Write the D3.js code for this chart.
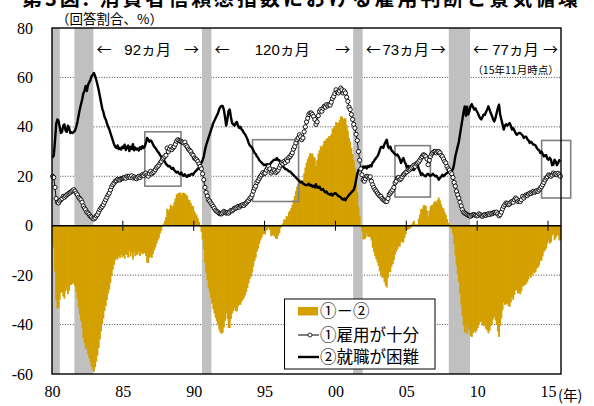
<!DOCTYPE html>
<html>
<head>
<meta charset="utf-8">
<script src="https://cdn.jsdelivr.net/npm/d3@7"></script>
<style>
body { margin: 0; background: #fff; }
</style>
</head>
<body>
<div id="chart"></div>
<script>
var startYear = 1980; // monthly data from Jan 1980 to Nov 2015

// ①雇用が十分 (%)
var plentiful = [
    20,19.5,15.5,11,9.5,9.2,10,10.5,11,11.9,11.5,12,            // 80
    12.5,12.8,13.2,13.5,13.9,14.2,14.6,14,13.2,12.5,11.5,11,
    10.5,9.5,8,7.1,6.5,5.5,5.1,4.5,3.8,3.5,2.9,2.7,
    3.2,4,4.5,5.5,6.5,7.2,7.8,8.5,9.5,10.5,11.5,12.5,
    13.2,14.5,15.8,16.6,17.2,18,18.2,18.8,18.6,18.5,19,19.2,
    19.3,19.5,19.2,20,19.6,20,19.5,20.2,19.3,19.8,19.3,19,     // 85
    19.6,20,19.5,20.2,20.6,20.3,21,21.3,20.5,20,21,22,
    21,21.5,22,22.7,23.5,24,24.5,25.4,26,27,27.4,28,
    28.5,31.4,30,31,32,30.8,31.5,32,33,34.2,34.8,34.5,
    34.2,34,33.8,33.5,33.8,32.5,31.9,31,30.5,30,29,28.5,
    27.4,27,26.7,26,25,24,23,21,18.6,15.5,13.5,12,             // 90
    10.5,10,9.2,8.5,7.8,7,6.2,5.8,5.5,5,4.8,4.8,
    5.2,5.8,5.5,5.1,5.3,5.1,5.6,6.2,6,6.5,7.1,7,
    7.3,7.8,7.5,8,8.2,8.5,8.2,8.8,9.2,9.8,10.2,11,
    11.5,12.5,14,15.2,16,17.5,18.2,19.2,20,20.6,21.5,21,
    21.3,22.5,23.4,24,23,21.3,22,22.7,22.3,21.5,22,22.5,        // 95
    23.5,24.5,25.4,25,26,25.5,26.7,26.2,27.5,28,28.7,29.5,
    31,32,33.5,34.8,35.5,36.8,36,34.8,35.5,38,40,42,
    43.5,45,45.6,45.6,45,44.2,43,41,42,44.5,46.3,47,
    46.3,47.5,48.3,48,49,48.5,49,48.8,50,51.5,52.3,53.5,
    55,54,53.7,54.5,55.7,55,53.7,54.5,53.7,52,50.3,48,         // 00
    47,45,43,41,39.5,37,34.5,30,26.5,23,20.6,18.5,
    18,19,20,19.8,19.3,19.8,18,16.6,15.5,14.6,14,13.2,
    12.6,12,11.9,11,10.5,10.2,9.8,9.8,11,12.6,13.2,13.9,
    14.5,15.5,17.3,18,19.3,19.5,18.6,19,19.8,20.6,21,21.5,
    21.8,22.7,22.5,23,23.5,24,24.5,24,25,25.4,25.8,26.5,        // 05
    27.4,28,28.7,28.5,28,27,24.7,26.5,28,29,29.5,30,
    30,29.5,30,30,29.5,28.5,28,27,26,25.4,24,23,
    22.5,21.5,21,19.5,17.5,16,14,12.5,11.2,9.5,8,6.5,
    5.5,5.1,4.8,4.5,4.2,4,3.8,4.2,4.5,4.5,4.2,4,
    4.2,4.8,4.5,4,3.8,4.3,4.5,4.2,4.6,4.8,4.5,5,               // 10
    4.8,5.1,5.4,5.2,5.5,4.8,4,4.5,5.5,6.8,7.8,8.5,
    9.2,9,8.5,8.8,9.5,9.8,9.5,10.5,11.2,10.8,9.8,10.2,
    9.8,10.5,11.9,11.2,12,12.5,12.2,12.8,13.2,13,13.5,13.9,
    13.5,13.9,14.2,13.9,14.5,15.2,15.8,16.6,17.5,18.5,19.3,19.8,
    20.6,20.3,20,20.5,21.3,20.8,21,20.6,21.2,20.6,20            // 15
];

// ②就職が困難 (%)
var hardToGet = [
    27.5,28.5,34,41,43,42.5,40,37.5,38,40.5,41,38.5,           // 80
    38,40.5,39.5,37.5,37.8,37.5,38,38.5,40,42,44.5,47,
    49,51,53.5,54.5,56.5,54.5,57,58,59,60.5,61,61.8,
    60.5,59,57,55,52.5,50,47.5,46,44,43,41.5,40,
    39,37.5,36,34.5,33,32,31.5,32.5,31,31.5,30.8,32,
    31.5,32.8,30.6,31.8,32.5,30.2,32,31,33,30.5,31.6,30.8,     // 85
    31.2,30.4,31.8,31,32.2,31.5,32,33.5,35.5,35,34,34.5,
    34,33,32,31.5,30.8,30,29.5,28.5,28,27.2,26.5,26,
    25,24.5,24,24.2,23.5,23,23.4,22.5,22,21.5,21.8,21.2,
    20.8,21.5,20.5,20.2,20.8,20,19.8,20.5,20.2,20.8,21,20.6,
    21.5,22,22.5,23,23.5,24.5,25.5,26.5,28,30.5,32.5,34,       // 90
    35.5,37,38.5,40,41.5,42.5,43.5,44.5,45.5,47,48,48.5,
    48.5,47,44,40.5,43,46.5,47,44,41.5,41,40.5,41.5,
    42,40.5,39.5,40,39,38.5,37.5,37,36,35,33.5,32.5,
    32,31.5,30.5,29.5,29,28,27.5,26.5,26,25.5,25,24.5,
    24.7,24.5,25,24.5,24.7,25.5,26,26.5,26.7,26.7,27.4,26.5,   // 95
    26.5,25.5,25,24,23.5,23,22.8,22.5,22,22,21.5,21,
    20.5,20,19.5,19,18.5,18,17.5,17.8,17,16.8,16.5,16.5,
    16.5,17,16.2,16.5,15.8,16.2,15.5,16.8,15.5,15.3,15.8,14.8,
    14.5,14.8,14,13.5,13.8,13,12.8,12.5,13,12.2,12.8,13.2,
    13,12.5,12,11.8,11.5,10.8,10.5,11,10.3,11.2,11.8,12.5,     // 00
    13,13.5,14,14.5,16,18.5,21,22.5,22.8,23.5,23,24,
    23.5,24,23.2,24.2,23.8,24.5,24,25.5,26,26.8,27.5,28,
    29,30.5,31.8,32,31.5,33,34,34.8,32,31.4,32,30.5,
    30,29.4,29,28.5,28.8,28,27,25.4,26.5,27.4,26,25,
    23.4,24.2,23.8,24,23,22.7,22.5,23.5,24.5,25,23,22,         // 05
    20.6,21.2,20.5,20.2,20,20.8,21,20.4,20.2,20.6,21,20.5,
    20,20.2,19.5,18.6,19.3,19.8,20.6,20,20.5,21,21.3,21.8,
    22,22.5,22.2,22.8,25,28,30,32,34,37,40,43,
    46,48.3,44.5,48.2,45,46.5,48.5,49.2,48,47,47.5,46.5,
    45.6,44.5,43.5,43,44,45,44.8,46,47,48.3,47,45.6,           // 10
    44.5,43,42.2,43.5,45.6,47.5,49,45,43,41,38.9,40.5,
    41,40.5,41,41.6,40.5,38.9,39.5,38.5,37.5,36.8,37.2,37.5,
    37.5,37,36.5,35.5,36,36,35,34.5,33.5,34,33.5,32.8,
    32.8,32.5,31.5,30.8,30.5,29.4,30,29,28,28.5,28.5,27,
    26.7,27.5,26.7,24.5,24.7,26.7,26,24.5,25.2,26.5,26          // 15
];

// US recessions (shaded)
var recessions = [[1980.0, 1980.55], [1981.58, 1982.92], [1990.58, 1991.25], [2001.25, 2001.92], [2008.0, 2009.5]];
var expansionLabels = ["92ヵ月", "120ヵ月", "73ヵ月", "77ヵ月"];

// boxes around the crossing periods: [from, to, low, high]
var boxes = [[1986.55, 1989.1, 16, 38], [1994.15, 1997.4, 9.8, 34.8], [2004.2, 2006.7, 11.6, 32.4], [2014.55, 2016.6, 11.2, 34.5]];

var yTicks = [-60, -40, -20, 0, 20, 40, 60, 80];
var gridValues = [-40, -20, 20, 40, 60];
var xTickYears = [1980, 1985, 1990, 1995, 2000, 2005, 2010, 2015];
var xTickLabels = ["80", "85", "90", "95", "00", "05", "10", "15"];

var width = 594, height = 406;
var pl = 52, pr = 561, pt = 28, pb = 374; // plot edges
var gold = "#d4a000";
var serif = "'Liberation Serif', 'Times New Roman', serif";
var jp = "'Noto Sans CJK JP', sans-serif";

var months = plentiful.map(function(p, i) {
    return { t: startYear + i / 12, p: p, h: hardToGet[i], d: p - hardToGet[i] };
});

var x = d3.scaleLinear()
    .domain([startYear, startYear + plentiful.length / 12])
    .range([pl, pr]);
var y = d3.scaleLinear().domain([-60, 80]).range([pb, pt]);
var mw = x(startYear + 1 / 12) - x(startYear);

var svg = d3.select("#chart").append("svg")
    .attr("width", width)
    .attr("height", height)
    .style("background", "#fff");

// title, cut at the top of the picture
svg.append("text")
    .attr("x", 22)
    .attr("y", 5.5)
    .attr("textLength", 556)
    .style("font-family", jp)
    .style("font-weight", "bold")
    .style("font-size", "20px")
    .text("第3図: 消費者信頼感指数における雇用判断と景気循環");

svg.append("text")
    .attr("x", 56)
    .attr("y", 23.5)
    .style("font-family", jp)
    .style("font-size", "13.5px")
    .text("（回答割合、%）");

// grid
svg.selectAll(".grid")
    .data(gridValues)
    .enter().append("line")
    .attr("x1", pl).attr("x2", pr)
    .attr("y1", function(d) { return y(d); })
    .attr("y2", function(d) { return y(d); })
    .style("stroke", "#333")
    .style("stroke-width", 0.9)
    .style("stroke-dasharray", "1,1.6");

// recession bands
svg.selectAll(".band")
    .data(recessions)
    .enter().append("rect")
    .attr("x", function(d) { return x(d[0]); })
    .attr("y", pt)
    .attr("width", function(d) { return x(d[1]) - x(d[0]); })
    .attr("height", pb - pt)
    .style("fill", "#c0c0c0");

// bars ①－②
svg.selectAll(".bar")
    .data(months)
    .enter().append("rect")
    .attr("x", function(d) { return x(d.t) - 0.3; })
    .attr("width", mw + 0.7)
    .attr("y", function(d) { return y(Math.max(0, d.d)); })
    .attr("height", function(d) { return Math.abs(y(d.d) - y(0)); })
    .style("fill", gold);

// zero line and its ticks
svg.append("line")
    .attr("x1", pl).attr("x2", pr)
    .attr("y1", y(0)).attr("y2", y(0))
    .style("stroke", "#000")
    .style("stroke-width", 1.4);
svg.selectAll(".zt")
    .data(xTickYears.slice(1))
    .enter().append("line")
    .attr("x1", function(d) { return x(d); })
    .attr("x2", function(d) { return x(d); })
    .attr("y1", y(0) - 5).attr("y2", y(0) + 5)
    .style("stroke", "#000")
    .style("stroke-width", 1);

// boxes
svg.selectAll(".box")
    .data(boxes)
    .enter().append("rect")
    .attr("x", function(d) { return x(d[0]); })
    .attr("y", function(d) { return y(d[3]); })
    .attr("width", function(d) { return x(d[1]) - x(d[0]); })
    .attr("height", function(d) { return y(d[2]) - y(d[3]); })
    .style("fill", "none")
    .style("stroke", "#808080")
    .style("stroke-width", 1.6);

var cx = function(d) { return x(d.t) + mw / 2; };

// ②
svg.append("path")
    .datum(months)
    .attr("d", d3.line().x(cx).y(function(d) { return y(d.h); }))
    .style("fill", "none")
    .style("stroke", "#000")
    .style("stroke-width", 2.4)
    .style("stroke-linejoin", "round");

// ①
svg.append("path")
    .datum(months)
    .attr("d", d3.line().x(cx).y(function(d) { return y(d.p); }))
    .style("fill", "none")
    .style("stroke", "#000")
    .style("stroke-width", 0.9);
svg.selectAll(".pt")
    .data(months)
    .enter().append("circle")
    .attr("cx", cx)
    .attr("cy", function(d) { return y(d.p); })
    .attr("r", 2.1)
    .style("fill", "#fff")
    .style("stroke", "#000")
    .style("stroke-width", 0.9);

// frame
svg.append("rect")
    .attr("x", pl).attr("y", pt)
    .attr("width", pr - pl).attr("height", pb - pt)
    .style("fill", "none")
    .style("stroke", "#000")
    .style("stroke-width", 1.4);

// axes labels
var yAxis = svg.append("g")
    .attr("transform", "translate(" + pl + ",0)")
    .call(d3.axisLeft(y).tickValues(yTicks).tickSize(0).tickPadding(19)
        .tickFormat(function(d) { return String(d); }));
yAxis.select(".domain").remove();
yAxis.attr("font-family", serif).attr("font-size", 16);
yAxis.selectAll("text").style("fill", "#000");

var xAxis = svg.append("g")
    .attr("transform", "translate(0," + pb + ")")
    .call(d3.axisBottom(x).tickValues(xTickYears).tickSize(0).tickPadding(12)
        .tickFormat(function(d, i) { return xTickLabels[i]; }));
xAxis.select(".domain").remove();
xAxis.attr("font-family", serif).attr("font-size", 16);
xAxis.selectAll("text").style("fill", "#000");

svg.append("text")
    .attr("x", 558)
    .attr("y", 401)
    .style("font-family", jp)
    .style("font-size", "14.5px")
    .text("(年)");

// expansion annotations between recessions
var expansions = expansionLabels.map(function(label, i) {
    var from = recessions[i + 1][1];
    var to = i + 2 < recessions.length ? recessions[i + 2][0] : x.domain()[1];
    return { from: from, to: to, label: label };
});
var ann = svg.selectAll(".exp")
    .data(expansions)
    .enter().append("g")
    .style("font-size", "15px");
ann.append("text")
    .attr("x", function(d) { return x(d.from) + 3; })
    .attr("y", 55)
    .style("font-family", jp)
    .text("←");
ann.append("text")
    .attr("x", function(d) { return x(d.to) - 3; })
    .attr("y", 55)
    .style("font-family", jp)
    .style("text-anchor", "end")
    .text("→");
ann.append("text")
    .attr("x", function(d) { return (x(d.from) + x(d.to)) / 2; })
    .attr("y", 55)
    .style("font-family", "'Liberation Sans', " + jp)
    .style("text-anchor", "middle")
    .text(function(d) { return d.label; });

svg.append("text")
    .attr("x", (x(expansions[3].from) + x(expansions[3].to)) / 2)
    .attr("y", 74)
    .style("text-anchor", "middle")
    .style("font-family", jp)
    .style("font-size", "10.5px")
    .text("（15年11月時点）");

// legend
var lg = svg.append("g");
lg.append("rect")
    .attr("x", 284.5).attr("y", 299)
    .attr("width", 150.5).attr("height", 70)
    .style("fill", "#fff")
    .style("stroke", "#000")
    .style("stroke-width", 1);
lg.append("rect")
    .attr("x", 298).attr("y", 307)
    .attr("width", 20).attr("height", 8.5)
    .style("fill", gold);
lg.append("line")
    .attr("x1", 298).attr("x2", 319)
    .attr("y1", 335).attr("y2", 335)
    .style("stroke", "#000").style("stroke-width", 1);
lg.append("circle")
    .attr("cx", 310).attr("cy", 335).attr("r", 2)
    .style("fill", "#fff").style("stroke", "#000").style("stroke-width", 0.8);
lg.append("line")
    .attr("x1", 298).attr("x2", 319)
    .attr("y1", 357).attr("y2", 357)
    .style("stroke", "#000").style("stroke-width", 2.4);
var legendTexts = ["①－②", "①雇用が十分", "②就職が困難"];
lg.selectAll(".lt")
    .data(legendTexts)
    .enter().append("text")
    .attr("x", 320)
    .attr("y", function(d, i) { return [317, 341, 363][i]; })
    .style("font-family", jp)
    .style("font-size", "16.5px")
    .text(function(d) { return d; });
</script>
</body>
</html>
